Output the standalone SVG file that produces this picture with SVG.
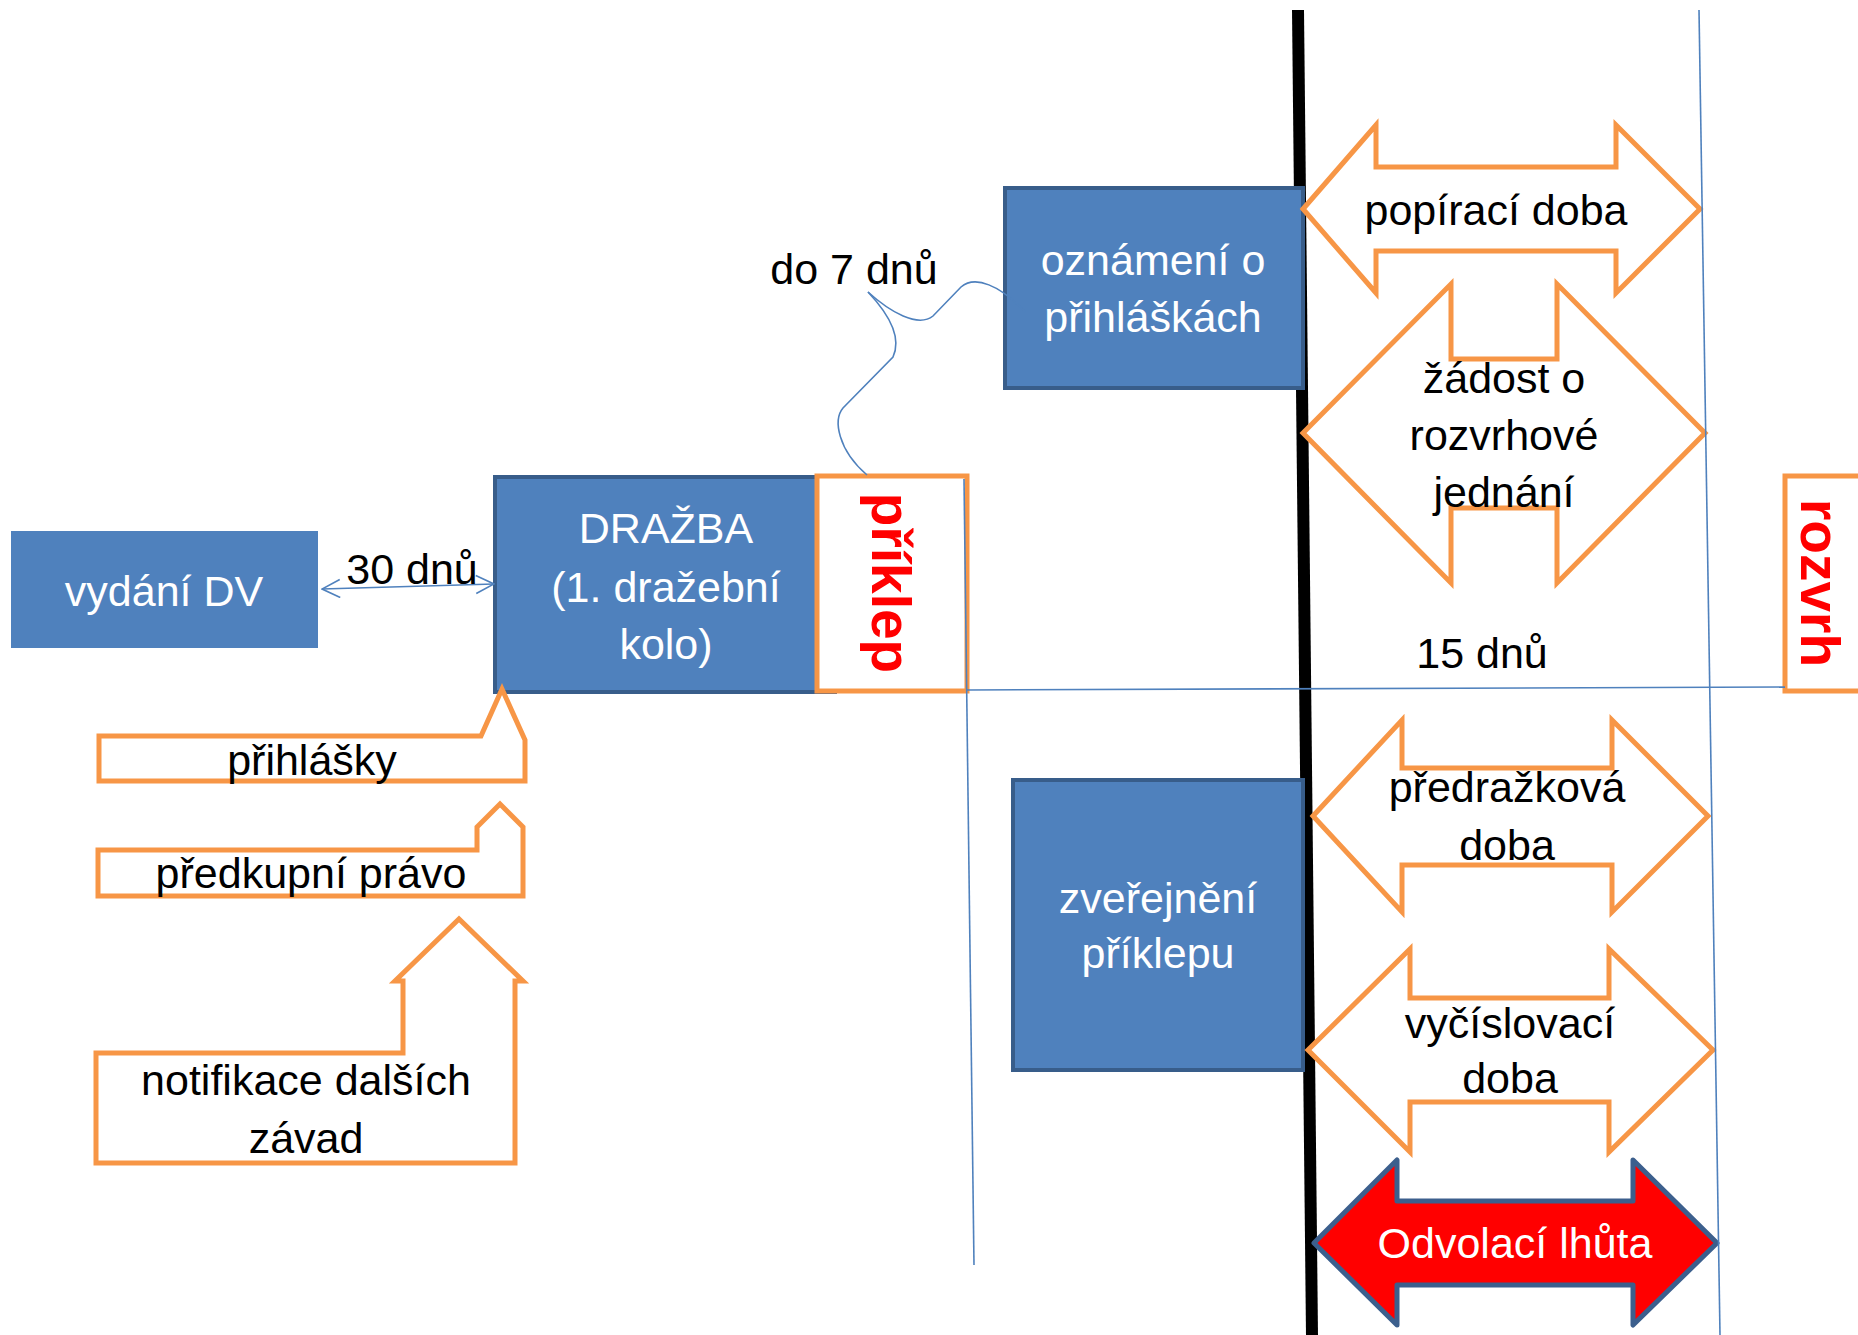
<svg xmlns="http://www.w3.org/2000/svg" width="1858" height="1335" viewBox="0 0 1858 1335">
<defs>
<style>
.box{fill:#4F81BD;stroke:#385D8A;stroke-width:4}
.flat{fill:#4F81BD}
.wt{fill:#FFFFFF;font-family:"Liberation Sans",Arial,sans-serif;font-size:43px;text-anchor:middle}
.bt{fill:#000000;font-family:"Liberation Sans",Arial,sans-serif;font-size:43px;text-anchor:middle}
.rt{fill:#FF0000;font-family:"Liberation Sans",Arial,sans-serif;font-size:55px;font-weight:bold;text-anchor:middle}
.org{fill:#FFFFFF;stroke:#F79646;stroke-width:5;stroke-linejoin:miter}
.thin{fill:none;stroke:#4F81BD;stroke-width:1.6}
.red{fill:#FF0000;stroke:#3C5F8D;stroke-width:5;stroke-linejoin:round}
</style>
<marker id="open" viewBox="0 0 20 20" refX="19" refY="10" markerWidth="20" markerHeight="20" markerUnits="userSpaceOnUse" orient="auto-start-reverse">
<path d="M1,1 L19,10 L1,19" fill="none" stroke="#4F81BD" stroke-width="1.6"/>
</marker>
</defs>
<rect width="1858" height="1335" fill="#FFFFFF"/>

<g id="divider">
<line x1="1298" y1="10" x2="1312" y2="1335" stroke="#000000" stroke-width="12"/>
</g>

<g id="vydani-dv">
<rect class="flat" x="11" y="531" width="307" height="117"/>
<text class="wt" x="164" y="606">vydání DV</text>
</g>

<g id="drazba">
<rect class="box" x="495" y="477" width="340" height="215"/>
<text class="wt" x="666" y="543">DRAŽBA</text>
<text class="wt" x="666" y="602">(1. dražební</text>
<text class="wt" x="666" y="659">kolo)</text>
</g>

<g id="priklep">
<rect class="org" x="817" y="476" width="150" height="215"/>
<text class="rt" transform="translate(872,583) rotate(90)">příklep</text>
</g>

<g id="oznameni">
<rect class="box" x="1005" y="188" width="298" height="200"/>
<text class="wt" x="1153" y="275">oznámení o</text>
<text class="wt" x="1153" y="332">přihláškách</text>
</g>

<g id="zverejneni">
<rect class="box" x="1013" y="780" width="290" height="290"/>
<text class="wt" x="1158" y="913">zveřejnění</text>
<text class="wt" x="1158" y="968">příklepu</text>
</g>

<g id="rozvrh">
<rect class="org" x="1785" y="476" width="110" height="215"/>
<text class="rt" transform="translate(1801,583) rotate(90)">rozvrh</text>
</g>

<g id="prihlasky">
<path class="org" d="M99,736 L481,736 L502,689 L525,740 L525,781 L99,781 Z"/>
<text class="bt" x="312" y="775">přihlášky</text>
</g>

<g id="predkupni-pravo">
<path class="org" d="M98,850 L477,850 L477,827 L500,804 L523,827 L523,896 L98,896 Z"/>
<text class="bt" x="311" y="888">předkupní právo</text>
</g>

<g id="notifikace">
<path class="org" d="M96,1053 L403,1053 L403,981 L395,981 L459,919 L523,981 L515,981 L515,1163 L96,1163 Z"/>
<text class="bt" x="306" y="1095">notifikace dalších</text>
<text class="bt" x="306" y="1153">závad</text>
</g>

<g id="popiraci-doba">
<path class="org" d="M1303,209 L1376,125 L1376,167 L1616,167 L1616,125 L1700,209 L1616,293 L1616,251 L1376,251 L1376,293 Z"/>
<text class="bt" x="1496" y="225">popírací doba</text>
</g>

<g id="zadost">
<path class="org" d="M1303,433 L1451,284 L1451,359 L1557,359 L1557,284 L1705,433 L1557,583 L1557,508 L1451,508 L1451,583 Z"/>
<text class="bt" x="1504" y="393">žádost o</text>
<text class="bt" x="1504" y="450">rozvrhové</text>
<text class="bt" x="1504" y="507">jednání</text>
</g>

<g id="predrazkova-doba">
<path class="org" d="M1313,816 L1402,720 L1402,768 L1612,768 L1612,720 L1708,816 L1612,912 L1612,865 L1402,865 L1402,912 Z"/>
<text class="bt" x="1507" y="802">předražková</text>
<text class="bt" x="1507" y="860">doba</text>
</g>

<g id="vycislovaci-doba">
<path class="org" d="M1308,1050 L1410,949 L1410,998 L1609,998 L1609,949 L1713,1050 L1609,1152 L1609,1102 L1410,1102 L1410,1152 Z"/>
<text class="bt" x="1510" y="1038">vyčíslovací</text>
<text class="bt" x="1510" y="1093">doba</text>
</g>

<g id="odvolaci-lhuta">
<path class="red" d="M1314,1243 L1397,1160 L1397,1201 L1633,1201 L1633,1160 L1717,1243 L1633,1325 L1633,1285 L1397,1285 L1397,1325 Z"/>
<text class="wt" x="1515" y="1258">Odvolací lhůta</text>
</g>

<g id="connectors">
<line class="thin" x1="322" y1="589" x2="494" y2="584" marker-start="url(#open)" marker-end="url(#open)"/>
<line class="thin" x1="964" y1="479" x2="974" y2="1265"/>
<line class="thin" x1="1699" y1="10" x2="1720" y2="1335"/>
<line class="thin" x1="967" y1="690" x2="1785" y2="687"/>
<path class="thin" d="M868,292 C890,312 918,328 933,316 L961,287 C975,275 1000,285 1025,312"/>
<path class="thin" d="M868,292 C885,310 903,335 893,357 L843,408 C833,420 838,450 867,475"/>
</g>

<g id="labels">
<text class="bt" x="412" y="584">30 dnů</text>
<text class="bt" x="854" y="284">do 7 dnů</text>
<text class="bt" x="1482" y="668">15 dnů</text>
</g>
</svg>
